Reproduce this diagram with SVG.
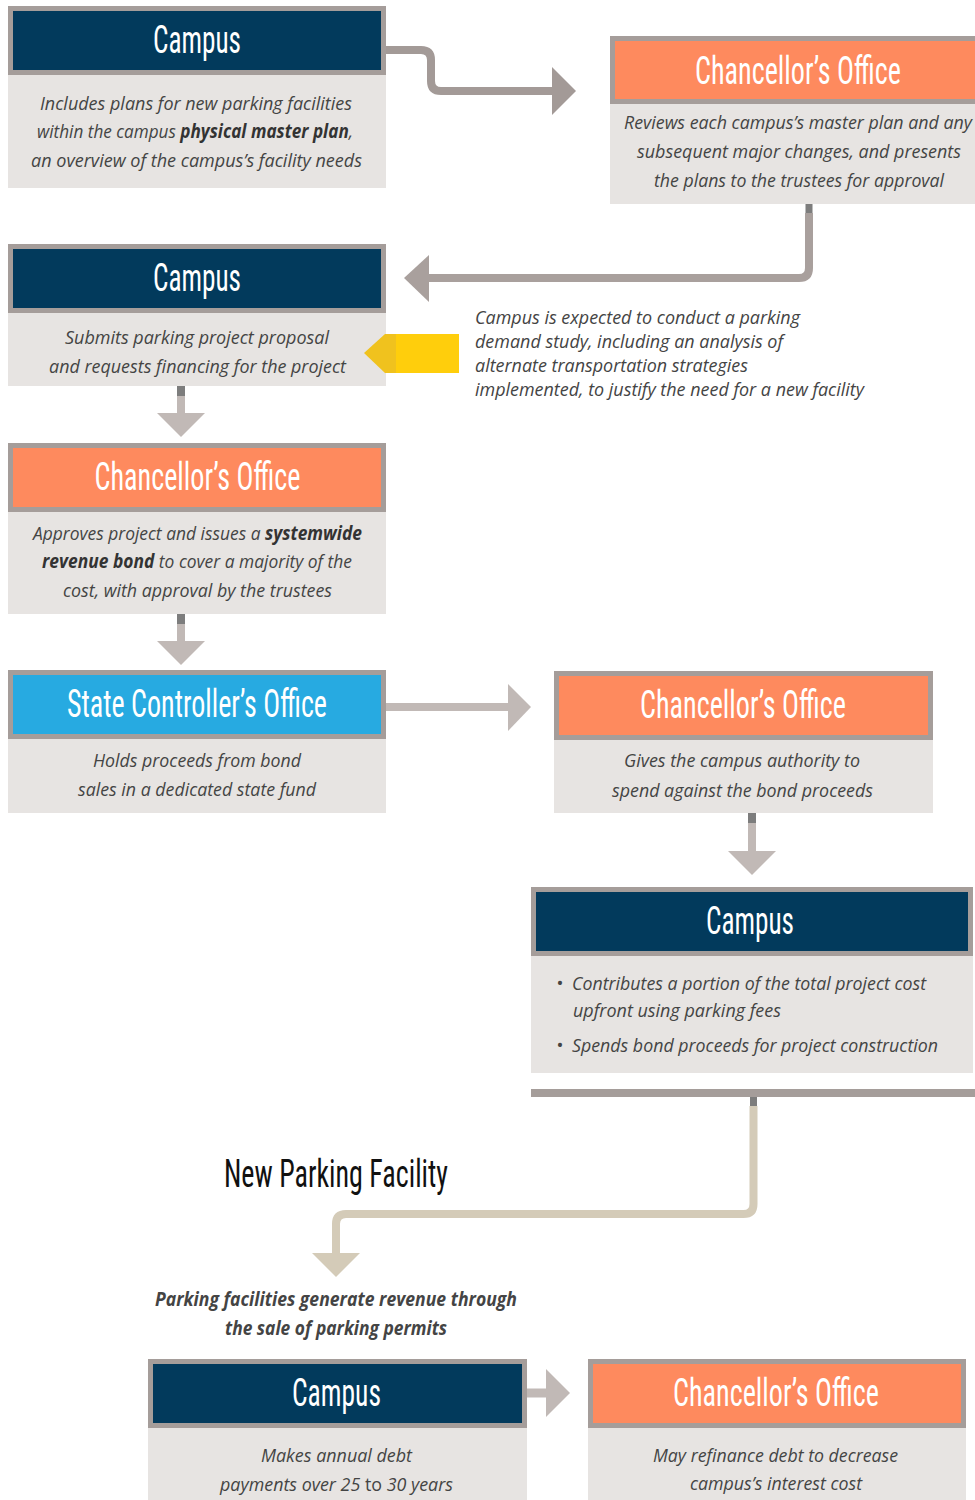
<svg xmlns="http://www.w3.org/2000/svg" width="975" height="1500" viewBox="0 0 975 1500">
<style>
.hb{fill:#A59D9A}
.navy{fill:#023A5C}
.orange{fill:#FE8A5E}
.blue{fill:#27AAE1}
.body{fill:#E7E4E2}
.ht{font-family:"Roboto Condensed","Liberation Sans Narrow",Roboto,sans-serif;font-size:39px;fill:#fff;text-anchor:middle}
.bt{font-family:"Open Sans",sans-serif;font-style:italic;font-size:19px;fill:#444;text-anchor:middle}
.lt{text-anchor:start}
.b{font-weight:bold;fill:#333}
.stub{fill:#7D7D7D}
.c1{fill:none;stroke:#A39A97;stroke-width:8}
.c2{fill:none;stroke:#C1B9B6;stroke-width:8}
.c3{fill:none;stroke:#D4CBB8;stroke-width:8}
.h1{fill:#A39A97}
.h2{fill:#C1B9B6}
.h3{fill:#D4CBB8}
</style>
<rect width="975" height="1500" fill="#fff"/>

<g id="node1">
  <rect class="hb" x="8" y="6" width="378" height="69"/>
  <rect class="navy" x="13" y="11" width="368" height="59"/>
  <rect class="body" x="8" y="75" width="378" height="113"/>
  <text class="ht" x="197" y="53" textLength="88" lengthAdjust="spacingAndGlyphs">Campus</text>
  <text class="bt" x="196" y="110" textLength="312" lengthAdjust="spacingAndGlyphs">Includes plans for new parking facilities</text>
  <text class="bt" x="195" y="138" textLength="316" lengthAdjust="spacingAndGlyphs">within the campus <tspan class="b">physical master plan</tspan>,</text>
  <text class="bt" x="196.5" y="167" textLength="331" lengthAdjust="spacingAndGlyphs">an overview of the campus’s facility needs</text>
</g>

<g id="node2">
  <rect class="hb" x="610" y="36" width="365" height="68"/>
  <rect class="orange" x="615" y="41" width="360" height="58"/>
  <rect class="body" x="610" y="104" width="365" height="100"/>
  <text class="ht" x="798" y="84" textLength="206" lengthAdjust="spacingAndGlyphs">Chancellor’s Office</text>
  <text class="bt" x="798" y="129" textLength="348" lengthAdjust="spacingAndGlyphs">Reviews each campus’s master plan and any</text>
  <text class="bt" x="799" y="158" textLength="324" lengthAdjust="spacingAndGlyphs">subsequent major changes, and presents</text>
  <text class="bt" x="799" y="187" textLength="290" lengthAdjust="spacingAndGlyphs">the plans to the trustees for approval</text>
</g>

<g id="node3">
  <rect class="hb" x="8" y="244" width="378" height="69"/>
  <rect class="navy" x="13" y="249" width="368" height="59"/>
  <rect class="body" x="8" y="313" width="378" height="73"/>
  <text class="ht" x="197" y="291" textLength="88" lengthAdjust="spacingAndGlyphs">Campus</text>
  <text class="bt" x="197" y="344" textLength="264" lengthAdjust="spacingAndGlyphs">Submits parking project proposal</text>
  <text class="bt" x="197.5" y="373" textLength="297" lengthAdjust="spacingAndGlyphs">and requests financing for the project</text>
</g>

<g id="note1">
  <text class="bt lt" x="475" y="324" style="font-size:18px" textLength="325" lengthAdjust="spacingAndGlyphs">Campus is expected to conduct a parking</text>
  <text class="bt lt" x="475" y="348" style="font-size:18px" textLength="308" lengthAdjust="spacingAndGlyphs">demand study, including an analysis of</text>
  <text class="bt lt" x="475" y="372" style="font-size:18px" textLength="273" lengthAdjust="spacingAndGlyphs">alternate transportation strategies</text>
  <text class="bt lt" x="475" y="396" style="font-size:18px" textLength="389" lengthAdjust="spacingAndGlyphs">implemented, to justify the need for a new facility</text>
</g>

<g id="node4">
  <rect class="hb" x="8" y="443" width="378" height="69"/>
  <rect class="orange" x="13" y="448" width="368" height="59"/>
  <rect class="body" x="8" y="512" width="378" height="102"/>
  <text class="ht" x="197.5" y="490" textLength="206" lengthAdjust="spacingAndGlyphs">Chancellor’s Office</text>
  <text class="bt" x="197.5" y="540" textLength="329" lengthAdjust="spacingAndGlyphs">Approves project and issues a <tspan class="b">systemwide</tspan></text>
  <text class="bt" x="197" y="568" textLength="310" lengthAdjust="spacingAndGlyphs"><tspan class="b">revenue bond</tspan> to cover a majority of the</text>
  <text class="bt" x="197.5" y="597" textLength="269" lengthAdjust="spacingAndGlyphs">cost, with approval by the trustees</text>
</g>

<g id="node5">
  <rect class="hb" x="8" y="670" width="378" height="69"/>
  <rect class="blue" x="13" y="675" width="368" height="59"/>
  <rect class="body" x="8" y="739" width="378" height="74"/>
  <text class="ht" x="197" y="717" textLength="260" lengthAdjust="spacingAndGlyphs">State Controller’s Office</text>
  <text class="bt" x="197" y="767" textLength="208" lengthAdjust="spacingAndGlyphs">Holds proceeds from bond</text>
  <text class="bt" x="197" y="796" textLength="238" lengthAdjust="spacingAndGlyphs">sales in a dedicated state fund</text>
</g>

<g id="node6">
  <rect class="hb" x="554" y="671" width="379" height="69"/>
  <rect class="orange" x="559" y="676" width="369" height="59"/>
  <rect class="body" x="554" y="740" width="379" height="73"/>
  <text class="ht" x="743" y="718" textLength="206" lengthAdjust="spacingAndGlyphs">Chancellor’s Office</text>
  <text class="bt" x="742" y="767" textLength="236" lengthAdjust="spacingAndGlyphs">Gives the campus authority to</text>
  <text class="bt" x="742.5" y="797" textLength="261" lengthAdjust="spacingAndGlyphs">spend against the bond proceeds</text>
</g>

<g id="node7">
  <rect class="hb" x="531" y="887" width="442" height="69"/>
  <rect class="navy" x="536" y="892" width="432" height="59"/>
  <rect class="body" x="531" y="956" width="442" height="117"/>
  <text class="ht" x="750" y="934" textLength="88" lengthAdjust="spacingAndGlyphs">Campus</text>
  <text class="bt lt" x="556" y="990">•</text>
  <text class="bt lt" x="572" y="990" textLength="354" lengthAdjust="spacingAndGlyphs">Contributes a portion of the total project cost</text>
  <text class="bt lt" x="573" y="1017" textLength="208" lengthAdjust="spacingAndGlyphs">upfront using parking fees</text>
  <text class="bt lt" x="556" y="1052">•</text>
  <text class="bt lt" x="572" y="1052" textLength="366" lengthAdjust="spacingAndGlyphs">Spends bond proceeds for project construction</text>
</g>

<g id="facility">
  <text class="ht" x="336" y="1187" style="fill:#111" textLength="224" lengthAdjust="spacingAndGlyphs">New Parking Facility</text>
  <text class="bt" x="336" y="1306" style="font-weight:bold" textLength="362" lengthAdjust="spacingAndGlyphs">Parking facilities generate revenue through</text>
  <text class="bt" x="336" y="1335" style="font-weight:bold" textLength="222" lengthAdjust="spacingAndGlyphs">the sale of parking permits</text>
</g>

<g id="node8">
  <rect class="hb" x="148" y="1359" width="379" height="69"/>
  <rect class="navy" x="153" y="1364" width="369" height="59"/>
  <rect class="body" x="148" y="1428" width="379" height="72"/>
  <text class="ht" x="336.5" y="1406" textLength="89" lengthAdjust="spacingAndGlyphs">Campus</text>
  <text class="bt" x="336.5" y="1462" textLength="151" lengthAdjust="spacingAndGlyphs">Makes annual debt</text>
  <text class="bt" x="336.5" y="1491" textLength="233" lengthAdjust="spacingAndGlyphs">payments over 25 <tspan style="font-style:normal">to</tspan> 30 years</text>
</g>

<g id="node9">
  <rect class="hb" x="588" y="1359" width="378" height="69"/>
  <rect class="orange" x="593" y="1364" width="368" height="59"/>
  <rect class="body" x="588" y="1428" width="378" height="72"/>
  <text class="ht" x="776" y="1406" textLength="206" lengthAdjust="spacingAndGlyphs">Chancellor’s Office</text>
  <text class="bt" x="775.5" y="1462" textLength="245" lengthAdjust="spacingAndGlyphs">May refinance debt to decrease</text>
  <text class="bt" x="776" y="1490" textLength="172" lengthAdjust="spacingAndGlyphs">campus’s interest cost</text>
</g>

<g id="connectors">
  <path class="c1" d="M386,50 H421 Q431,50 431,60 V81 Q431,91 441,91 H554"/>
  <polygon class="h1" points="552,67 576,91 552,115"/>
  <rect class="stub" x="805.5" y="204" width="7" height="9"/>
  <path class="c1" style="stroke:#A9A09D" d="M809,213 V268 Q809,278 799,278 H427"/>
  <polygon class="h1" style="fill:#A9A09D" points="429,255 404,278 429,302"/>
  <polygon fill="#F0C21E" points="364,353 385,334 396,334 396,373 385,373"/>
  <rect fill="#FFCE0C" x="396" y="334" width="63" height="39"/>
  <rect class="stub" x="177" y="386" width="8" height="10"/>
  <line class="c2" x1="181" y1="396" x2="181" y2="415"/>
  <polygon class="h2" points="157,413 205,413 181,437"/>
  <rect class="stub" x="177" y="614" width="8" height="10"/>
  <line class="c2" x1="181" y1="624" x2="181" y2="643"/>
  <polygon class="h2" points="157,641 205,641 181,665"/>
  <line class="c2" x1="386" y1="707" x2="510" y2="707"/>
  <polygon class="h2" points="508,684 531,707 508,731"/>
  <rect class="stub" x="748" y="813" width="8" height="10"/>
  <line class="c2" x1="752" y1="823" x2="752" y2="853"/>
  <polygon class="h2" points="728,851 776,851 752,875"/>
  <rect class="hb" x="531" y="1089" width="444" height="8"/>
  <rect class="stub" x="750" y="1097" width="7" height="9"/>
  <path class="c3" d="M753.5,1106 V1204 Q753.5,1214 743.5,1214 H346 Q336,1214 336,1224 V1255"/>
  <polygon class="h3" points="312,1253 360,1253 336,1277"/>
  <line class="c2" x1="527" y1="1393" x2="548" y2="1393" style="stroke-width:9"/>
  <polygon class="h2" points="546,1369 570,1393 546,1417"/>
</g>
</svg>
